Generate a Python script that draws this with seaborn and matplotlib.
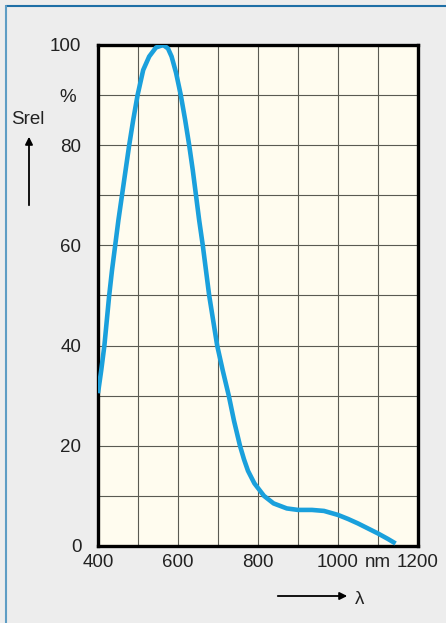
import matplotlib
matplotlib.use("Agg")
import matplotlib.pyplot as plt
from matplotlib.lines import Line2D
from matplotlib.ticker import MultipleLocator
import seaborn as sns
import pandas as pd

# relative spectral sensitivity
wavelength = [400, 408, 416, 422, 428, 435, 443, 451, 460, 469, 478, 488, 499,
              513, 528, 545, 563, 575, 584, 595, 607, 618, 628, 637, 645, 653,
              662, 670, 678, 688, 698, 712, 727, 740, 755, 765, 775, 791, 815,
              839, 872, 900, 935, 965, 1000, 1025, 1050, 1075, 1100, 1125, 1144]
srel = [30.5, 35, 40, 45, 50, 55, 60, 65, 70, 75, 80, 85, 90,
        95, 97.7, 99.5, 100, 99.3, 97.7, 94.5, 90, 85, 80, 75, 70, 65,
        60, 55, 50, 45, 40, 35, 30, 25, 20, 17.3, 15, 12.5, 10,
        8.5, 7.5, 7.2, 7.2, 7.0, 6.2, 5.4, 4.5, 3.5, 2.5, 1.4, 0.5]
x_ticks = [400, 600, 800, 1000, 1200]
y_ticks = [0, 20, 40, 60, 80, 100]

df = pd.DataFrame({"wavelength": wavelength, "srel": srel})

sns.set_style("white", {"axes.facecolor": "#FFFCEF", "figure.facecolor": "#EDEDED"})
plt.rcParams["font.family"] = ["Liberation Sans", "DejaVu Sans"]
fs = 13.5
txt = "#222222"

fig = plt.figure(figsize=(4.46, 6.23), dpi=100)
ax = fig.add_axes([0.2197, 0.1236, 0.7175, 0.8042])

sns.lineplot(data=df, x="wavelength", y="srel", ax=ax, color="#1AA0DC",
             linewidth=3.3, solid_capstyle="butt", solid_joinstyle="round", zorder=5)

ax.set_xlim(400, 1200)
ax.set_ylim(0, 100)
ax.set_xticks(x_ticks)
ax.set_yticks(y_ticks)
ax.xaxis.set_minor_locator(MultipleLocator(100))
ax.yaxis.set_minor_locator(MultipleLocator(10))
ax.grid(True, which="both", color="#5a5a52", linewidth=0.8)
ax.set_axisbelow(True)
ax.tick_params(which="both", length=0, labelsize=fs, colors=txt)
ax.tick_params(axis="y", pad=12)
ax.tick_params(axis="x", pad=6)
ax.set_xlabel("")
ax.set_ylabel("")
for s in ax.spines.values():
    s.set_visible(True)
    s.set_color("black")
    s.set_linewidth(2.4)

# unit placed between the last two tick labels
ax.annotate("nm", xy=(1099, 0), xycoords=("data", "axes fraction"),
            xytext=(0, -6), textcoords="offset points", ha="center", va="top",
            fontsize=fs, color=txt, annotation_clip=False)

# axis captions and arrows
fig.text(68 / 446, 1 - 97 / 623, "%", ha="center", va="center", fontsize=fs, color=txt)
fig.text(28 / 446, 1 - 120 / 623, "Srel", ha="center", va="center", fontsize=fs, color=txt)
fig.text(360 / 446, 1 - 599 / 623, "λ", ha="center", va="center", fontsize=fs, color=txt)
ax.annotate("", xy=(29 / 446, 1 - 134 / 623), xytext=(29 / 446, 1 - 208 / 623),
            xycoords="figure fraction", textcoords="figure fraction",
            arrowprops=dict(arrowstyle="-|>", color="black", lw=1.3, mutation_scale=11),
            annotation_clip=False)
ax.annotate("", xy=(350 / 446, 1 - 596 / 623), xytext=(275 / 446, 1 - 596 / 623),
            xycoords="figure fraction", textcoords="figure fraction",
            arrowprops=dict(arrowstyle="-|>", color="black", lw=1.3, mutation_scale=11),
            annotation_clip=False)

# outer frame lines
fig.add_artist(Line2D([6 / 446, 1], [1 - 6 / 623, 1 - 6 / 623], color="#1F6FA6", linewidth=1.5))
fig.add_artist(Line2D([6 / 446, 6 / 446], [0, 1 - 6 / 623], color="#5E9DC4", linewidth=1.5))

fig.savefig("out.png", dpi=100)
